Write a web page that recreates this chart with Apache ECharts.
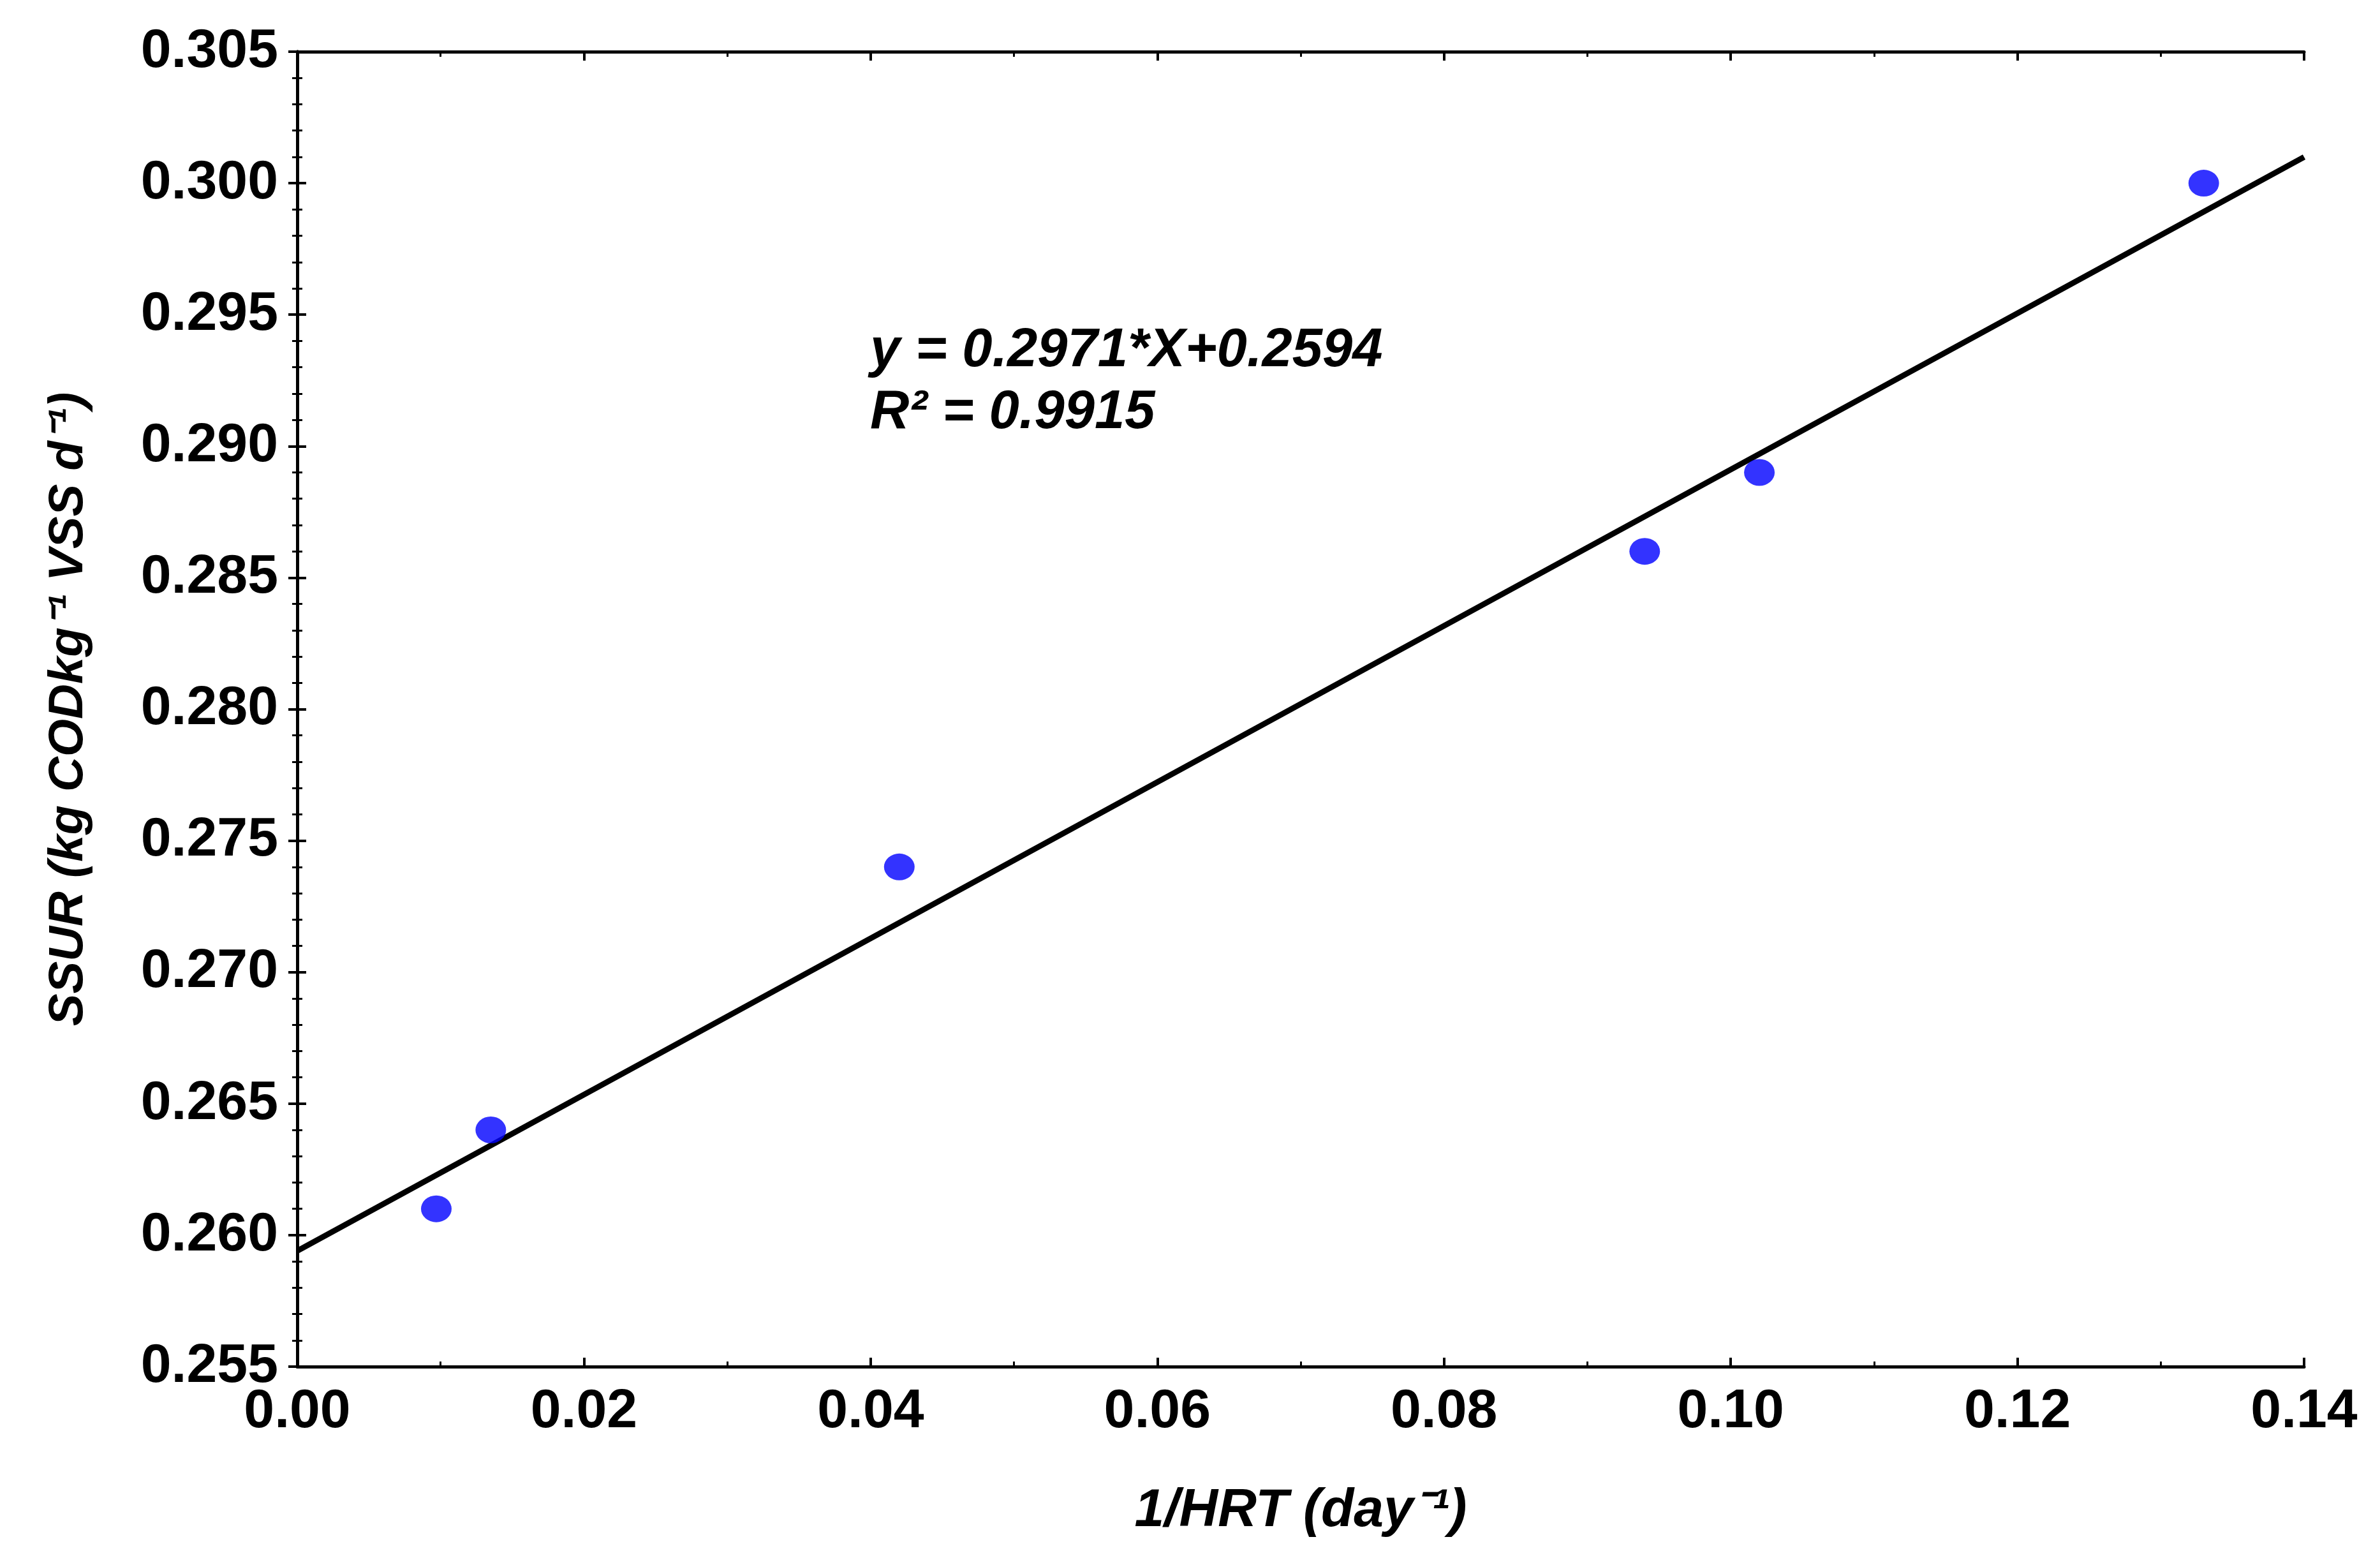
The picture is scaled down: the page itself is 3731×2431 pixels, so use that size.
<!DOCTYPE html>
<html>
<head>
<meta charset="utf-8">
<script src="https://cdn.jsdelivr.net/npm/echarts@6/dist/echarts.min.js"></script>
<style>html,body{margin:0;background:#fff}#c{width:3731px;height:2431px}</style>
</head>
<body>
<div id="c"></div>
<script>
const hrtInv = [0.0097, 0.0135, 0.042, 0.094, 0.102, 0.133];
const ssur = [0.261, 0.264, 0.274, 0.286, 0.289, 0.300];
const fitX = [0, 0.14];
const fitY = fitX.map(x => 0.2971 * x + 0.2594);

const font = 'Liberation Sans';
const tickLbl = { fontFamily: font, fontWeight: 'bold', fontSize: 86, color: '#000' };
const axLine = { lineStyle: { color: '#000', width: 5 } };

const chart = echarts.init(document.getElementById('c'));
const baseX = {
  type: 'value', min: 0, max: 0.14, interval: 0.02,
  axisLine: axLine, splitLine: { show: false },
  axisTick: { inside: true, length: 14, lineStyle: { color: '#000', width: 4 } },
  minorTick: { show: true, splitNumber: 2, length: 8, lineStyle: { color: '#000', width: 3 } }
};
const baseY = {
  type: 'value', min: 0.255, max: 0.305, interval: 0.005,
  axisLine: axLine, splitLine: { show: false },
  axisTick: { inside: true, length: 14, lineStyle: { color: '#000', width: 4 } },
  minorTick: { show: true, splitNumber: 5, length: 8, lineStyle: { color: '#000', width: 3 } }
};
chart.setOption({
  animation: false,
  grid: { left: 466, right: 119, top: 81, bottom: 289 },
  xAxis: [
    Object.assign({}, baseX, {
      position: 'bottom',
      axisLabel: Object.assign({ margin: 28, formatter: v => v.toFixed(2) }, tickLbl),
      name: '1/HRT (day⁻¹)', nameLocation: 'middle', nameGap: 185,
      nameTextStyle: { fontFamily: font, fontWeight: 'bold', fontStyle: 'italic', fontSize: 84, color: '#000' }
    }),
    Object.assign({}, baseX, { position: 'top', axisLabel: { show: false } })
  ],
  yAxis: [
    Object.assign({}, baseY, {
      position: 'left',
      axisLabel: Object.assign({ margin: 30, formatter: v => v.toFixed(3) }, tickLbl),
      name: 'SSUR (kg CODkg⁻¹ VSS d⁻¹)', nameLocation: 'middle', nameGap: 320,
      nameTextStyle: { fontFamily: font, fontWeight: 'bold', fontStyle: 'italic', fontSize: 76, color: '#000' }
    }),
    Object.assign({}, baseY, { position: 'right', axisLabel: { show: false } })
  ],
  series: [
    {
      type: 'line', data: fitX.map((x, i) => [x, fitY[i]]),
      symbol: 'none', lineStyle: { color: '#000', width: 9 }, z: 2
    },
    {
      type: 'scatter', data: hrtInv.map((x, i) => [x, ssur[i]]),
      symbol: 'circle', symbolSize: [48, 42], itemStyle: { color: '#0000ff' }, z: 3
    }
  ],
  graphic: [
    { type: 'text', left: 1364, top: 508, style: { text: 'y = 0.2971*X+0.2594', fontFamily: font, fontWeight: 'bold', fontStyle: 'italic', fontSize: 85, fill: '#000' } },
    { type: 'text', left: 1364, top: 605, style: { text: 'R² = 0.9915', fontFamily: font, fontWeight: 'bold', fontStyle: 'italic', fontSize: 85, fill: '#000' } }
  ]
});
</script>
</body>
</html>
